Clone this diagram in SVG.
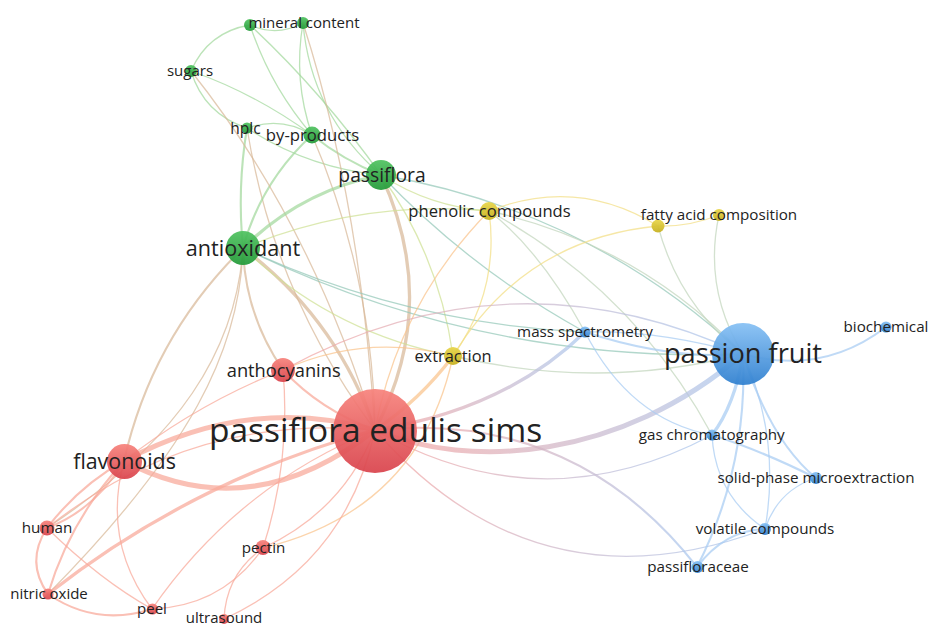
<svg xmlns="http://www.w3.org/2000/svg" width="928" height="626" viewBox="0 0 928 626">
<defs>
<style>
.e{fill:none;stroke-linecap:round;opacity:.72}
.r{stroke:#f8a898}.g{stroke:#a2d89c}.y{stroke:#f2de84}.b{stroke:#a8ccf2}
.rg{stroke:#d8b898}.rb{stroke:#cdb4cc}.gb{stroke:#94c8b8}.gy{stroke:#cfe094}.yb{stroke:#c2d6bc}.ry{stroke:#fac48c}
.w1{stroke-width:1.3}.w2{stroke-width:2.1}.w3{stroke-width:3.3}.w4{stroke-width:5}
.l{font-family:"Open Sans","Liberation Sans",sans-serif;fill:#222;text-anchor:middle}
.nr{fill:url(#gR)}.ng{fill:url(#gG)}.ny{fill:url(#gY)}.nb{fill:url(#gB)}
circle{fill-opacity:.93}
</style>
<linearGradient id="gR" x1="0" y1="0" x2="0" y2="1"><stop offset="0" stop-color="#f7837c"/><stop offset="1" stop-color="#d9434c"/></linearGradient>
<linearGradient id="gG" x1="0" y1="0" x2="0" y2="1"><stop offset="0" stop-color="#50c260"/><stop offset="1" stop-color="#229a38"/></linearGradient>
<linearGradient id="gY" x1="0" y1="0" x2="0" y2="1"><stop offset="0" stop-color="#e8d548"/><stop offset="1" stop-color="#c6b01e"/></linearGradient>
<linearGradient id="gB" x1="0" y1="0" x2="0" y2="1"><stop offset="0" stop-color="#86c0f4"/><stop offset="1" stop-color="#2e7fcf"/></linearGradient>
<linearGradient id="e1" gradientUnits="userSpaceOnUse" x1="375" y1="430" x2="743" y2="354"><stop offset="0" stop-color="#f6a4a0"/><stop offset="1" stop-color="#a8c8f0"/></linearGradient>
<linearGradient id="e2" gradientUnits="userSpaceOnUse" x1="375" y1="430" x2="712" y2="435"><stop offset="0" stop-color="#f6a4a0"/><stop offset="1" stop-color="#a8c8f0"/></linearGradient>
<linearGradient id="e3" gradientUnits="userSpaceOnUse" x1="375" y1="430" x2="765" y2="529"><stop offset="0" stop-color="#f6a4a0"/><stop offset="1" stop-color="#a8c8f0"/></linearGradient>
<linearGradient id="e4" gradientUnits="userSpaceOnUse" x1="375" y1="430" x2="697" y2="567"><stop offset="0" stop-color="#f6a4a0"/><stop offset="1" stop-color="#a8c8f0"/></linearGradient>
<linearGradient id="e5" gradientUnits="userSpaceOnUse" x1="375" y1="430" x2="585" y2="332"><stop offset="0" stop-color="#f6a4a0"/><stop offset="1" stop-color="#a8c8f0"/></linearGradient>
<linearGradient id="e6" gradientUnits="userSpaceOnUse" x1="283" y1="370" x2="743" y2="354"><stop offset="0" stop-color="#f6a4a0"/><stop offset="1" stop-color="#a8c8f0"/></linearGradient>
</defs>
<rect width="928" height="626" fill="#fff"/>
<g id="connectors">
<path class="e g w1" d="M250 25Q277 37 303 23"/>
<path class="e g w1" d="M250 25Q208 32 191 71"/>
<path class="e g w1" d="M250 25Q270 86 312 135"/>
<path class="e g w1" d="M250 25Q322 92 381 175"/>
<path class="e g w1" d="M303 23Q293 80 312 135"/>
<path class="e g w1" d="M303 23Q311 114 381 175"/>
<path class="e g w1" d="M191 71Q204 114 247 128"/>
<path class="e g w1" d="M191 71Q256 94 312 135"/>
<path class="e g w1" d="M247 128Q282 116 312 135"/>
<path class="e g w2" d="M247 128Q237 188 243 248"/>
<path class="e rg w1" d="M247 128Q274 295 375 430"/>
<path class="e g w1" d="M247 128Q308 168 381 175"/>
<path class="e g w2" d="M312 135Q261 182 243 248"/>
<path class="e g w2" d="M312 135Q343 160 381 175"/>
<path class="e rg w1" d="M312 135Q373 277 375 430"/>
<path class="e rg w1" d="M375 430Q310 220 191 71"/>
<path class="e rg w1" d="M375 430Q360 200 303 23"/>
<path class="e gb w1" d="M381 175Q589 210 743 354"/>
<path class="e g w3" d="M381 175Q301 191 243 248"/>
<path class="e rg w3" d="M381 175Q441 304 375 430"/>
<path class="e gy w1" d="M381 175Q430 207 489 211"/>
<path class="e gy w1" d="M381 175Q439 256 453 356"/>
<path class="e gb w1" d="M381 175Q470 269 585 332"/>
<path class="e rg w3" d="M243 248Q337 319 375 430"/>
<path class="e rg w2" d="M243 248Q152 337 124 461"/>
<path class="e rg w1" d="M243 248C236 350 180 440 47 528"/>
<path class="e rg w1" d="M243 248C240 350 190 450 48 594"/>
<path class="e rg w2" d="M243 248Q245 315 283 370"/>
<path class="e gy w1" d="M243 248Q332 333 453 356"/>
<path class="e gb w1" d="M243 248Q481 364 743 354"/>
<path class="e gb w1" d="M243 248Q406 324 585 332"/>
<path class="e gy w1" d="M243 248Q362 199 489 211"/>
<path class="e y w1" d="M489 211Q577 176 658 226"/>
<path class="e y w1" d="M489 211Q500 290 453 356"/>
<path class="e yb w1" d="M489 211Q638 244 743 354"/>
<path class="e ry w1" d="M489 211Q399 303 375 430"/>
<path class="e yb w1" d="M489 211Q634 290 712 435"/>
<path class="e yb w1" d="M489 211Q540 250 585 332"/>
<path class="e y w1" d="M658 226Q689 227 719 215"/>
<path class="e yb w1" d="M658 226Q679 305 743 354"/>
<path class="e yb w1" d="M719 215Q703 289 743 354"/>
<path class="e y w1" d="M658 226Q523 239 453 356"/>
<path class="e yb w1" d="M453 356Q599 391 743 354"/>
<path class="e ry w3" d="M453 356Q420 400 375 430"/>
<path class="e ry w1" d="M283 370Q365 333 453 356"/>
<path class="e ry w1" d="M263 548Q420 510 453 356"/>
<path class="e r w4" d="M124 461Q250 394 375 430"/>
<path class="e r w4" d="M124 461Q250 528 375 430"/>
<path class="e r w2" d="M283 370Q320 410 375 430"/>
<path class="e r w1" d="M283 370Q197 404 124 461"/>
<path class="e r w2" d="M47 528Q80 485 124 461"/>
<path class="e r w2" d="M47 528Q95 510 124 461"/>
<path class="e r w2" d="M47 528Q25 562 48 594"/>
<path class="e r w2" d="M48 594Q70 520 124 461"/>
<path class="e r w3" d="M48 594Q195 479 375 430"/>
<path class="e r w1" d="M47 528Q191 413 375 430"/>
<path class="e r w1" d="M47 528Q100 580 152 609"/>
<path class="e r w2" d="M48 594Q96 627 152 609"/>
<path class="e r w1" d="M124 461Q102 542 152 609"/>
<path class="e r w1" d="M152 609Q237 486 375 430"/>
<path class="e r w1" d="M263 548Q343 511 375 430"/>
<path class="e r w1" d="M263 548Q226 574 224 619"/>
<path class="e r w1" d="M224 619Q347 562 375 430"/>
<path class="e r w1" d="M152 609Q223 606 263 548"/>
<path class="e r w1" d="M283 370Q291 461 263 548"/>
<path class="e w4" stroke="url(#e1)" d="M375 430C470 470 620 460 743 354"/>
<path class="e w1" stroke="url(#e2)" d="M375 430Q542 525 712 435"/>
<path class="e w1" stroke="url(#e3)" d="M375 430Q536 615 765 529"/>
<path class="e w2" stroke="url(#e4)" d="M375 430Q574 410 697 567"/>
<path class="e w3" stroke="url(#e5)" d="M375 430Q505 410 585 332"/>
<path class="e w1" stroke="url(#e6)" d="M283 370Q510 246 743 354"/>
<path class="e b w2" d="M585 332Q670 360 743 354"/>
<path class="e b w1" d="M585 332Q660 330 743 354"/>
<path class="e b w1" d="M585 332Q630 420 712 435"/>
<path class="e b w2" d="M743 354Q822 376 886 327"/>
<path class="e b w3" d="M743 354Q735 405 712 435"/>
<path class="e b w2" d="M743 354Q770 440 816 478"/>
<path class="e b w1" d="M743 354Q781 438 765 529"/>
<path class="e b w2" d="M743 354Q748 467 697 567"/>
<path class="e b w1" d="M712 435Q715 495 765 529"/>
<path class="e b w1" d="M816 478Q778 490 765 529"/>
<path class="e b w2" d="M765 529Q725 530 697 567"/>
<path class="e b w2" d="M712 435Q760 450 816 478"/>
</g>
<g id="n-mineral-2"><circle class="ng" cx="250" cy="25" r="6"/></g>
<g id="n-mineral-content"><circle class="ng" cx="303" cy="23" r="6"/><text class="l" x="304" y="28" font-size="15">mineral content</text></g>
<g id="n-sugars"><circle class="ng" cx="191" cy="71" r="6"/><text class="l" x="190" y="76" font-size="15">sugars</text></g>
<g id="n-hplc"><circle class="ng" cx="247" cy="128" r="5.5"/><text class="l" x="245.5" y="133.5" font-size="15.5">hplc</text></g>
<g id="n-by-products"><circle class="ng" cx="312" cy="135" r="8.5"/><text class="l" x="312.5" y="141" font-size="16.7">by-products</text></g>
<g id="n-passiflora"><circle class="ng" cx="381" cy="175" r="15"/><text class="l" x="382" y="181.5" font-size="19.3">passiflora</text></g>
<g id="n-antioxidant"><circle class="ng" cx="243" cy="248" r="17"/><text class="l" x="243" y="255.5" font-size="21.6">antioxidant</text></g>
<g id="n-phenolic-compounds"><circle class="ny" cx="489" cy="211" r="9"/><text class="l" x="489.5" y="217" font-size="16.6">phenolic compounds</text></g>
<g id="n-fatty-2"><circle class="ny" cx="658" cy="226" r="6.5"/></g>
<g id="n-fatty-acid-composition"><circle class="ny" cx="719" cy="215" r="6"/><text class="l" x="719" y="220" font-size="15.2">fatty acid composition</text></g>
<g id="n-mass-spectrometry"><circle class="nb" cx="585" cy="332" r="5.5"/><text class="l" x="585" y="337" font-size="15.2">mass spectrometry</text></g>
<g id="n-extraction"><circle class="ny" cx="453" cy="356" r="9"/><text class="l" x="453" y="361.5" font-size="16.4">extraction</text></g>
<g id="n-passion-fruit"><circle class="nb" cx="743" cy="354" r="31"/><text class="l" x="743" y="363" font-size="27.2">passion fruit</text></g>
<g id="n-biochemical"><circle class="nb" cx="886" cy="327" r="5.5"/><text class="l" x="886" y="332" font-size="15.2">biochemical</text></g>
<g id="n-anthocyanins"><circle class="nr" cx="283" cy="370" r="12"/><text class="l" x="283.7" y="376.5" font-size="18.3">anthocyanins</text></g>
<g id="n-passiflora-edulis-sims"><circle class="nr" cx="375" cy="431" r="42"/><text class="l" x="375.5" y="442" font-size="33.5">passiflora edulis sims</text></g>
<g id="n-flavonoids"><circle class="nr" cx="124.5" cy="461.5" r="17.5"/><text class="l" x="124.5" y="469" font-size="21.4">flavonoids</text></g>
<g id="n-gas-chromatography"><circle class="nb" cx="712" cy="435" r="5.5"/><text class="l" x="711.7" y="440" font-size="15.2">gas chromatography</text></g>
<g id="n-solid-phase-microextraction"><circle class="nb" cx="816" cy="478" r="6"/><text class="l" x="816" y="483" font-size="15.2">solid-phase microextraction</text></g>
<g id="n-volatile-compounds"><circle class="nb" cx="765" cy="529" r="6"/><text class="l" x="765" y="534" font-size="15.2">volatile compounds</text></g>
<g id="n-passifloraceae"><circle class="nb" cx="697.5" cy="567" r="6"/><text class="l" x="698" y="572" font-size="15.2">passifloraceae</text></g>
<g id="n-human"><circle class="nr" cx="47" cy="528" r="7.5"/><text class="l" x="47" y="533" font-size="15.2">human</text></g>
<g id="n-pectin"><circle class="nr" cx="263" cy="547.5" r="7.5"/><text class="l" x="263.5" y="552.5" font-size="15.2">pectin</text></g>
<g id="n-nitric-oxide"><circle class="nr" cx="48" cy="594" r="5.5"/><text class="l" x="49" y="599" font-size="15">nitric oxide</text></g>
<g id="n-peel"><circle class="nr" cx="152.5" cy="609" r="5.5"/><text class="l" x="152" y="614" font-size="15">peel</text></g>
<g id="n-ultrasound"><circle class="nr" cx="224" cy="619" r="5"/><text class="l" x="224" y="622.5" font-size="15">ultrasound</text></g>
</svg>
